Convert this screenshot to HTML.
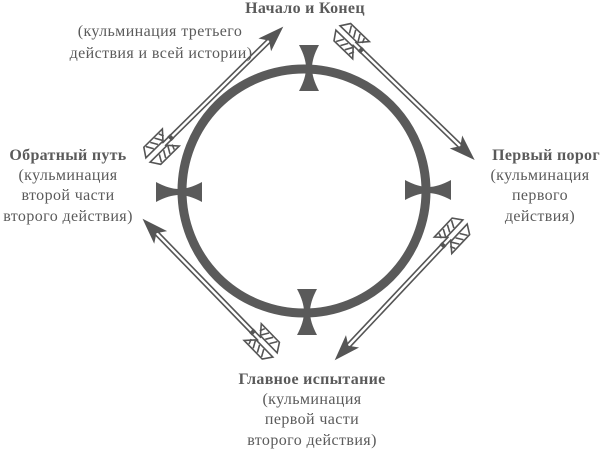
<!DOCTYPE html>
<html><head><meta charset="utf-8"><style>
html,body{margin:0;padding:0;background:#fff;}
svg{display:block}
text{font-family:"Liberation Serif",serif;font-size:16px;letter-spacing:0.4px;fill:#5a5a5a;text-anchor:middle}
.b{font-weight:bold;letter-spacing:0.3px}
</style></head><body>
<svg width="600" height="449" viewBox="0 0 600 449">
<defs>
<g id="arr">
  <line x1="22" y1="-2" x2="172" y2="-2" stroke="#555" stroke-width="1.6"/>
  <line x1="22" y1="2" x2="172" y2="2" stroke="#555" stroke-width="1.6"/>
  <path d="M190,0 L164,-9 L170,0 L164,9 Z" fill="#555"/>
  <path d="M0,-3 L6,-12 L32,-12 L24,-3 Z M0,3 L6,12 L32,12 L24,3 Z" fill="#fff" stroke="#555" stroke-width="1.6"/>
  <path d="M8,-11 L12,-4 M14,-11 L18,-4 M20,-11 L24,-4 M26,-11 L28,-6 M8,11 L12,4 M14,11 L18,4 M20,11 L24,4 M26,11 L28,6" stroke="#555" stroke-width="1.6"/>
  <rect x="30" y="-3" width="4" height="6" fill="#555"/>
</g>
<path id="cr" d="M-10,-23 L10,-23 Q3,-10 3,0 Q3,10 10,23 L-10,23 Q-3,10 -3,0 Q-3,-10 -10,-23 Z" fill="#5a5a5a"/>
</defs>
<circle cx="304" cy="191" r="122" fill="none" stroke="#5a5a5a" stroke-width="9"/>
<use href="#cr" transform="translate(309,68)"/>
<use href="#cr" transform="translate(307,312)"/>
<use href="#cr" transform="translate(179,192) rotate(90)"/>
<use href="#cr" transform="translate(428,190) rotate(90)"/>
<use href="#arr" transform="translate(148,160) rotate(-44.6)"/>
<use href="#arr" transform="translate(338,28) rotate(44)"/>
<use href="#arr" transform="translate(465,222) rotate(133.3)"/>
<use href="#arr" transform="translate(275,355) rotate(-134.2)"/>
<text class="b" x="305" y="13">Начало и Конец</text>
<text x="160" y="36">(кульминация третьего</text>
<text x="161" y="58">действия и всей истории)</text>
<text class="b" x="68" y="160">Обратный путь</text>
<text x="68" y="180">(кульминация</text>
<text x="68" y="200">второй части</text>
<text x="68" y="221">второго действия)</text>
<text class="b" x="546" y="160">Первый порог</text>
<text x="540" y="180">(кульминация</text>
<text x="540" y="200">первого</text>
<text x="540" y="221">действия)</text>
<text class="b" x="312" y="384">Главное испытание</text>
<text x="312" y="404">(кульминация</text>
<text x="312" y="424">первой части</text>
<text x="312" y="445">второго действия)</text>
</svg>
</body></html>
